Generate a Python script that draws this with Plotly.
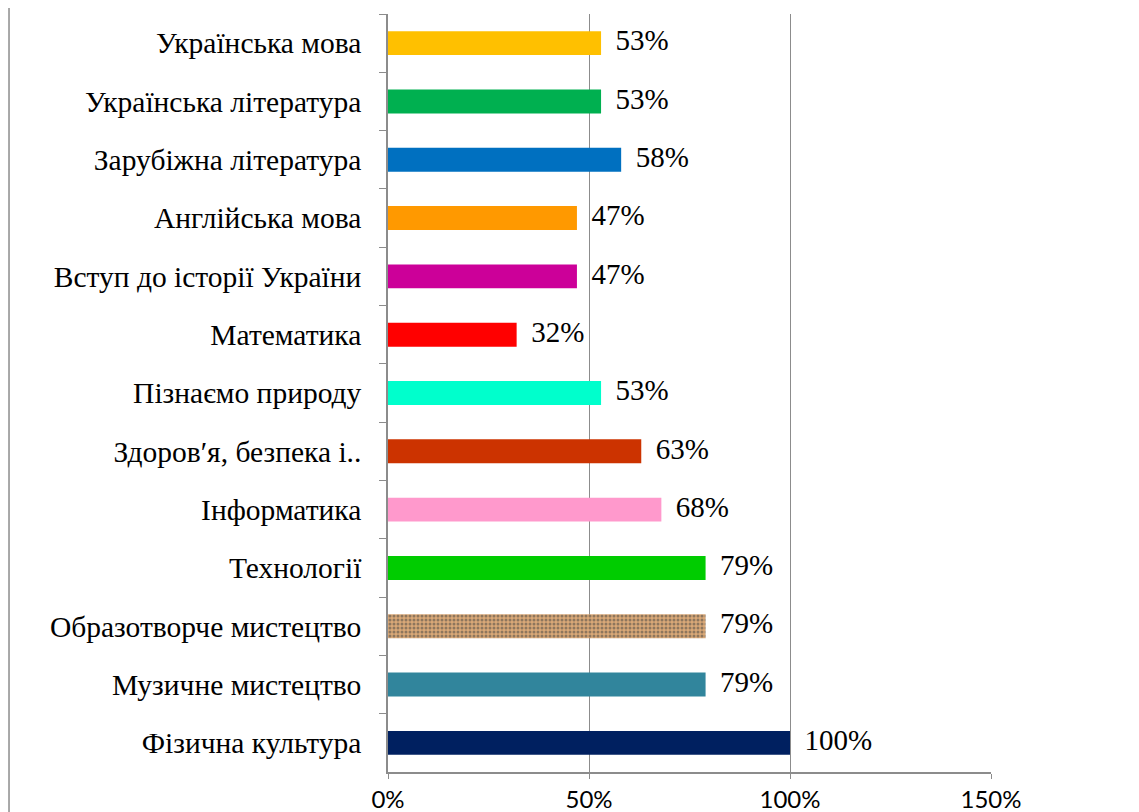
import plotly.graph_objects as go

subjects = ['Українська мова', 'Українська література', 'Зарубіжна література',
            'Англійська мова', 'Вступ до історії України', 'Математика',
            'Пізнаємо природу', 'Здоров′я, безпека і..', 'Інформатика',
            'Технології', 'Образотворче мистецтво', 'Музичне мистецтво',
            'Фізична культура']
shares = [0.53, 0.53, 0.58, 0.47, 0.47, 0.32, 0.53, 0.63, 0.68, 0.79, 0.79, 0.79, 1.00]
colors = ['#FFC000', '#00B050', '#0070C0', '#FF9900', '#CC0099', '#FF0000',
          '#00FFCC', '#CC3300', '#FF99CC', '#00CC00', '#D9A877', '#31859C',
          '#002060']
patterns = ['' if s != 'Образотворче мистецтво' else '.' for s in subjects]

grey = '#8C8C8C'

fig = go.Figure()
fig.add_trace(go.Bar(
    y=subjects, x=shares, orientation='h',
    marker=dict(color=colors, line_width=0,
                pattern=dict(shape=patterns, fgcolor='#8A5A36', size=4,
                             solidity=0.45, fillmode='overlay')),
    hoverinfo='skip',
))
# value labels next to the bar ends
fig.add_trace(go.Scatter(
    y=subjects, x=shares, mode='text', cliponaxis=False,
    text=['\u2002{:.0f}%'.format(v * 100) for v in shares],
    textposition='middle right',
    textfont=dict(family='Liberation Serif', size=29, color='black'),
))

# the page body adds 8px around the figure, so the figure is 8px smaller
fig.update_layout(
    width=1131, height=804,
    plot_bgcolor='white', paper_bgcolor='white',
    margin=dict(l=380, r=148, t=6, b=40),
    bargap=0.59,
    showlegend=False,
    xaxis=dict(range=[0, 1.5], tickvals=[0, 0.5, 1.0, 1.5], tickformat='.0%',
               showgrid=True, gridcolor=grey, gridwidth=1, zeroline=False,
               showline=True, linecolor=grey, linewidth=1.5, automargin=False,
               ticks='outside', ticklen=5, tickcolor=grey,
               tickfont=dict(family='Lato', size=24, color='black')),
    yaxis=dict(range=[len(subjects) - 0.5, -0.5], showline=True, linecolor=grey,
               linewidth=1.5, ticks='outside', tickson='boundaries', ticklen=7,
               tickcolor=grey, ticklabelstandoff=19, showgrid=False, automargin=False,
               tickfont=dict(family='Liberation Serif', size=29.5, color='black')),
    shapes=[dict(type='line', xref='paper', yref='paper', x0=-0.6285, x1=-0.6285,
                 y0=-0.06, y1=1.02, line=dict(color=grey, width=1.5))],
)

fig.write_html('out.html')
